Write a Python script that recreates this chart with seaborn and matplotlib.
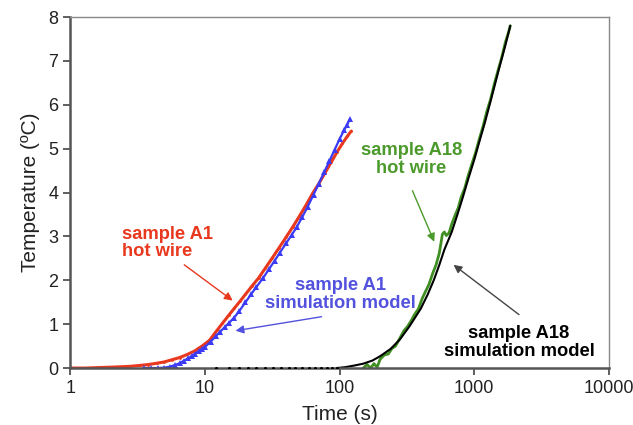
import numpy as np
import pandas as pd
import matplotlib
matplotlib.use("Agg")
import matplotlib.pyplot as plt
import seaborn as sns

# ---- datos ----
# sample A1 hot wire (rojo)
a1_wire_t = [1.0, 1.3, 1.6, 2.0, 2.4, 2.8, 3.3, 3.8, 4.4, 5.0, 5.7, 6.5, 7.4, 8.4,
             9.5, 10.8, 12.3, 13.5, 15.0, 16.5, 18.2, 20.0, 22.5, 25.0, 28.0, 31.5,
             35.5, 40.0, 45.0, 50.5, 56.5, 63.0, 70.0, 78.0, 87.0, 96.0, 105.0,
             114.0, 122.0]
a1_wire_T = [0.0, 0.0, 0.01, 0.02, 0.03, 0.04, 0.06, 0.08, 0.11, 0.14, 0.19, 0.24,
             0.31, 0.39, 0.5, 0.63, 0.86, 1.02, 1.2, 1.36, 1.52, 1.68, 1.88, 2.05,
             2.27, 2.5, 2.74, 2.98, 3.22, 3.47, 3.72, 3.98, 4.2, 4.45, 4.7, 4.93,
             5.12, 5.28, 5.4]

# sample A1 simulation model (azul)
a1_sim_t = [3.5, 4.0, 4.5, 5.0, 5.5, 6.0, 6.5, 7.0, 7.5, 8.0, 8.5, 9.0, 9.5, 10.0,
            11.0, 12.0, 13.0, 14.0, 15.0, 16.5, 18.0, 20.0, 22.0, 24.0, 27.0, 30.0,
            33.0, 36.0, 40.0, 44.0, 48.0, 53.0, 58.0, 64.0, 70.0, 77.0, 84.0, 92.0,
            100.0, 108.0, 114.0, 119.0]
a1_sim_T = [0.0, 0.0, 0.0, 0.01, 0.03, 0.07, 0.11, 0.17, 0.22, 0.28, 0.33, 0.38,
            0.43, 0.48, 0.6, 0.72, 0.83, 0.93, 1.02, 1.15, 1.3, 1.5, 1.68, 1.84,
            2.05, 2.26, 2.45, 2.63, 2.84, 3.03, 3.21, 3.45, 3.68, 3.95, 4.2, 4.47,
            4.72, 4.98, 5.22, 5.42, 5.55, 5.67]

# sample A18 hot wire (verde)
a18_wire_t = [150, 160, 170, 180, 190, 200, 215, 230, 245, 260, 280, 300, 320,
              340, 360, 385, 410, 435, 460, 490, 520, 550, 580, 600, 620, 650,
              680, 720, 760, 800, 850, 900, 960, 1020, 1090, 1160, 1240, 1320,
              1410, 1500, 1600, 1700, 1800, 1850]
a18_wire_T = [0.0, 0.08, 0.0, 0.1, 0.02, 0.2, 0.3, 0.32, 0.45, 0.5, 0.68, 0.85,
              0.95, 1.08, 1.22, 1.35, 1.58, 1.75, 1.9, 2.15, 2.35, 2.62, 3.05, 3.1,
              3.02, 3.08, 3.28, 3.48, 3.65, 3.9, 4.1, 4.38, 4.65, 4.9, 5.22, 5.5,
              5.85, 6.12, 6.48, 6.78, 7.08, 7.42, 7.66, 7.8]

# sample A18 simulation model (negro): tramo plano (puntos) y curva
a18_flat_t = [12, 15, 18, 21, 24, 28, 32, 37, 42, 47, 53, 59, 66, 73, 80, 88, 95]
a18_flat_T = [0.0] * len(a18_flat_t)
a18_sim_t = [95, 110, 130, 150, 175, 200, 240, 280, 330, 400, 450, 500, 550, 600,
             680, 750, 820, 900, 1000, 1100, 1200, 1300, 1420, 1550, 1700, 1850]
a18_sim_T = [0.0, 0.02, 0.06, 0.1, 0.17, 0.27, 0.44, 0.65, 0.95, 1.35, 1.67, 2.0,
             2.35, 2.7, 3.1, 3.5, 3.88, 4.3, 4.75, 5.2, 5.6, 6.0, 6.45, 6.9, 7.35, 7.8]

x_ticks = [1, 10, 100, 1000, 10000]
x_labels = ["1", "10", "100", "1000", "10000"]

red = "#e8381e"
blue = "#3b3bf5"
blue_txt = "#5252de"
green = "#3f8f22"
green_txt = "#4c9a2c"

sns.set_style("white")
plt.rcParams['font.family'] = ['Liberation Sans', 'DejaVu Sans']

fig, ax = plt.subplots(figsize=(6.33, 4.25), dpi=100)
fig.subplots_adjust(left=0.111, right=0.962, top=0.96, bottom=0.134)

sns.lineplot(x=a1_wire_t, y=a1_wire_T, ax=ax, color=red, lw=2.2,
             marker='.', markersize=4, markeredgewidth=0, sort=False)
sns.lineplot(x=a1_sim_t, y=a1_sim_T, ax=ax, color=blue, lw=1.6,
             marker='^', markersize=4, markeredgewidth=0, sort=False)
sns.lineplot(x=a18_wire_t, y=a18_wire_T, ax=ax, color=green, lw=2.0, sort=False)
sns.lineplot(x=a18_sim_t, y=a18_sim_T, ax=ax, color='black', lw=1.5, sort=False)
sns.scatterplot(x=a18_flat_t, y=a18_flat_T, ax=ax, color='black', s=5,
                linewidth=0, zorder=3)

ax.set_xscale('log')
ax.set_xlim(1, 10000)
ax.set_ylim(0, 8)
ax.set_xticks(x_ticks)
ax.set_xticklabels(x_labels)
ax.minorticks_off()
ax.set_yticks(range(0, 9))

ax.set_xlabel('Time (s)', fontsize=15, color='#222222', labelpad=6)
ax.set_ylabel('Temperature (ºC)', fontsize=15, color='#222222', labelpad=6)
ax.tick_params(axis='both', labelsize=13, labelcolor='#222222', direction='out',
               length=5, width=1.2, color='#444444', left=True, bottom=True)

for s in ['left', 'bottom']:
    ax.spines[s].set_color('#555555')
    ax.spines[s].set_linewidth(1.8)
for s in ['top', 'right']:
    ax.spines[s].set_color('#888888')
    ax.spines[s].set_linewidth(1.0)

# etiquetas y flechas
fs = 13.2
ax.text(2.43, 2.85, 'sample A1\nhot wire', color=red, fontsize=fs, fontweight='bold',
        ha='left', va='center', linespacing=1.05)
ax.annotate('', xy=(16.7, 1.5), xytext=(6.76, 2.39),
            arrowprops=dict(arrowstyle='-|>', color=red, lw=1.0, mutation_scale=12))

ax.text(101, 1.67, 'sample A1\nsimulation model', color=blue_txt, fontsize=fs,
        fontweight='bold', ha='center', va='center', linespacing=1.05)
ax.annotate('', xy=(16.1, 0.84), xytext=(77, 1.18),
            arrowprops=dict(arrowstyle='-|>', color=blue_txt, lw=1.0, mutation_scale=12))

ax.text(341, 4.76, 'sample A18\nhot wire', color=green_txt, fontsize=fs,
        fontweight='bold', ha='center', va='center', linespacing=1.05)
ax.annotate('', xy=(514, 2.82), xytext=(341, 4.1),
            arrowprops=dict(arrowstyle='-|>', color=green_txt, lw=1.0, mutation_scale=12))

ax.text(2154, 0.58, 'sample A18\nsimulation model', color='black', fontsize=fs,
        fontweight='bold', ha='center', va='center', linespacing=1.05)
ax.annotate('', xy=(676, 2.39), xytext=(2230, 1.18),
            arrowprops=dict(arrowstyle='-|>', color='#444444', lw=1.0, mutation_scale=12))

fig.savefig('out.png', dpi=100)
